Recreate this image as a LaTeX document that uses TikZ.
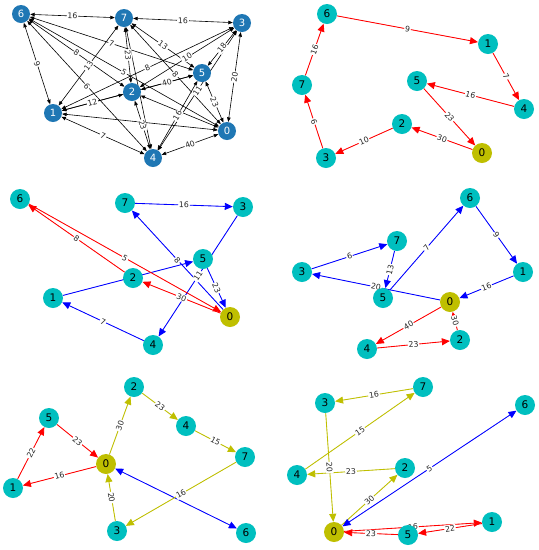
\documentclass[tikz,border=0pt]{standalone}
\usepackage{fontspec}
\setmainfont{DejaVu Sans}
\usetikzlibrary{arrows.meta}
\pgfdeclarelayer{bgfill}
\pgfdeclarelayer{edges}
\pgfdeclarelayer{labels}
\pgfsetlayers{bgfill,edges,labels,main}
\definecolor{nb}{HTML}{1F77B4}
\definecolor{cc}{rgb}{0,0.75,0.75}
\definecolor{yy}{rgb}{0.75,0.75,0}
\tikzset{
  n1/.style={circle,fill=nb,text=white,minimum size=18pt,inner sep=0pt,font=\fontsize{10}{11}\selectfont},
  nc/.style={circle,fill=cc,text=black,minimum size=20pt,inner sep=0pt,font=\fontsize{10.5}{11}\selectfont},
  ny/.style={nc,fill=yy},
  e1/.style={draw=black,line width=0.6pt,{Triangle[length=4.5pt,width=3.5pt]}-{Triangle[length=4.5pt,width=3.5pt]}},
  ec/.style={line width=0.85pt,-{Triangle[length=8pt,width=7pt]}},
  ecc/.style={line width=0.85pt,{Triangle[length=8pt,width=7pt]}-{Triangle[length=8pt,width=7pt]}},
  er/.style={ec,draw=red,fill=red},
  eb/.style={ec,draw=blue,fill=blue},
  ey/.style={ec,draw=yy,fill=yy},
  ebb/.style={ecc,draw=blue,fill=blue},
  lab/.style={fill=white,inner sep=0.8pt,sloped,midway,text=black!85,font=\fontsize{7.8}{8}\selectfont}
}
\newcommand\myedge[4][]{%
  \begin{pgfonlayer}{edges}\draw[#1] (#2) -- (#3);\end{pgfonlayer}%
  \begin{pgfonlayer}{labels}\path (#2) -- node[lab]{#4} (#3);\end{pgfonlayer}}
\newcommand\myline[3][]{%
  \begin{pgfonlayer}{edges}\draw[#1] (#2) -- (#3);\end{pgfonlayer}}
\begin{document}
\begin{tikzpicture}[x=1pt,y=-1pt]
\begin{pgfonlayer}{bgfill}
\fill[white] (0,0) rectangle (539,550);
\end{pgfonlayer}
\useasboundingbox (0,0) rectangle (539,550);
% ---------- panel 1 ----------
\node[n1] (a6) at (21,14) {6};
\node[n1] (a7) at (124,18) {7};
\node[n1] (a3) at (242,23) {3};
\node[n1] (a5) at (202,73) {5};
\node[n1] (a2) at (132,92) {2};
\node[n1] (a1) at (53,113) {1};
\node[n1] (a0) at (227,131) {0};
\node[n1] (a4) at (153,158) {4};
\myline[e1]{a7}{a4}
\myline[e1]{a2}{a0}
\myline[e1]{a5}{a1}
\myline[e1]{a1}{a0}
\myedge[e1]{a6}{a7}{16}
\myedge[e1]{a7}{a3}{16}
\myedge[e1]{a6}{a1}{9}
\myedge[e1]{a1}{a7}{13}
\myedge[e1]{a6}{a5}{7}
\myedge[e1]{a6}{a2}{8}
\myedge[e1]{a6}{a0}{5}
\myedge[e1]{a6}{a4}{6}
\myedge[e1]{a7}{a2}{23}
\myedge[e1]{a7}{a5}{13}
\myedge[e1]{a7}{a0}{8}
\myedge[e1]{a3}{a2}{10}
\myedge[e1]{a3}{a1}{8}
\myedge[e1]{a3}{a5}{18}
\myedge[e1]{a3}{a0}{20}
\myedge[e1]{a3}{a4}{11}
\myedge[e1]{a2}{a5}{40}
\myedge[e1]{a2}{a1}{12}
\myedge[e1]{a2}{a4}{23}
\myedge[e1]{a5}{a4}{16}
\myedge[e1]{a5}{a0}{23}
\myedge[e1]{a1}{a4}{7}
\myedge[e1]{a4}{a0}{40}
% ---------- panel 2 ----------
\node[nc] (b6) at (327,14) {6};
\node[nc] (b1) at (488,44) {1};
\node[nc] (b4) at (524,109) {4};
\node[nc] (b5) at (417,81) {5};
\node[nc] (b7) at (302,85) {7};
\node[nc] (b2) at (402,124) {2};
\node[ny] (b0) at (482,153) {0};
\node[nc] (b3) at (326,158) {3};
\myedge[er]{b0}{b2}{30}
\myedge[er]{b2}{b3}{10}
\myedge[er]{b3}{b7}{6}
\myedge[er]{b7}{b6}{16}
\myedge[er]{b6}{b1}{9}
\myedge[er]{b1}{b4}{7}
\myedge[er]{b4}{b5}{16}
\myedge[er]{b5}{b0}{23}
% ---------- panel 3 ----------
\node[nc] (c6) at (20,199) {6};
\node[nc] (c7) at (125,203) {7};
\node[nc] (c3) at (243,207) {3};
\node[nc] (c5) at (203,259) {5};
\node[nc] (c2) at (133,278) {2};
\node[nc] (c1) at (53,298) {1};
\node[ny] (c0) at (230,317) {0};
\node[nc] (c4) at (153,345) {4};
\myedge[eb]{c0}{c7}{8}
\myedge[eb]{c7}{c3}{16}
\myedge[eb]{c3}{c4}{11}
\myedge[eb]{c4}{c1}{7}
\myline[eb]{c1}{c5}
\myedge[eb]{c5}{c0}{23}
\myedge[er]{c2}{c6}{8}
\myedge[er]{c6}{c0}{5}
\myedge[er]{c0}{c2}{30}
% ---------- panel 4 ----------
\node[nc] (d6) at (470,198) {6};
\node[nc] (d7) at (397,241) {7};
\node[nc] (d3) at (302,272) {3};
\node[nc] (d1) at (523,272) {1};
\node[nc] (d5) at (383,298) {5};
\node[ny] (d0) at (450,302) {0};
\node[nc] (d2) at (460,340) {2};
\node[nc] (d4) at (367,349) {4};
\myedge[eb]{d0}{d3}{20}
\myedge[eb]{d3}{d7}{6}
\myedge[eb]{d7}{d5}{13}
\myedge[eb]{d5}{d6}{7}
\myedge[eb]{d6}{d1}{9}
\myedge[eb]{d1}{d0}{16}
\myedge[er]{d0}{d4}{40}
\myedge[er]{d4}{d2}{23}
\myedge[er]{d2}{d0}{30}
% ---------- panel 5 ----------
\node[nc] (e2) at (134,387) {2};
\node[nc] (e5) at (49,418) {5};
\node[nc] (e4) at (186,426) {4};
\node[nc] (e7) at (245,457) {7};
\node[ny] (e0) at (106,464) {0};
\node[nc] (e1) at (13,488) {1};
\node[nc] (e3) at (117,531) {3};
\node[nc] (e6) at (246,533) {6};
\myline[ebb]{e0}{e6}
\myedge[er]{e0}{e1}{16}
\myedge[er]{e1}{e5}{22}
\myedge[er]{e5}{e0}{23}
\myedge[ey]{e0}{e2}{30}
\myedge[ey]{e2}{e4}{23}
\myedge[ey]{e4}{e7}{15}
\myedge[ey]{e7}{e3}{16}
\myedge[ey]{e3}{e0}{20}
% ---------- panel 6 ----------
\node[nc] (f7) at (423,387) {7};
\node[nc] (f3) at (325,403) {3};
\node[nc] (f6) at (525,405) {6};
\node[nc] (f4) at (297,475) {4};
\node[nc] (f2) at (405,468) {2};
\node[ny] (f0) at (334,532) {0};
\node[nc] (f5) at (408,535) {5};
\node[nc] (f1) at (492,522) {1};
\myedge[ey]{f0}{f2}{30}
\myedge[ey]{f2}{f4}{23}
\myedge[ey]{f4}{f7}{15}
\myedge[ey]{f7}{f3}{16}
\myedge[ey]{f3}{f0}{20}
\myedge[ebb]{f0}{f6}{5}
\myedge[er]{f0}{f1}{16}
\myedge[er]{f1}{f5}{22}
\myedge[er]{f5}{f0}{23}
\end{tikzpicture}
\end{document}
